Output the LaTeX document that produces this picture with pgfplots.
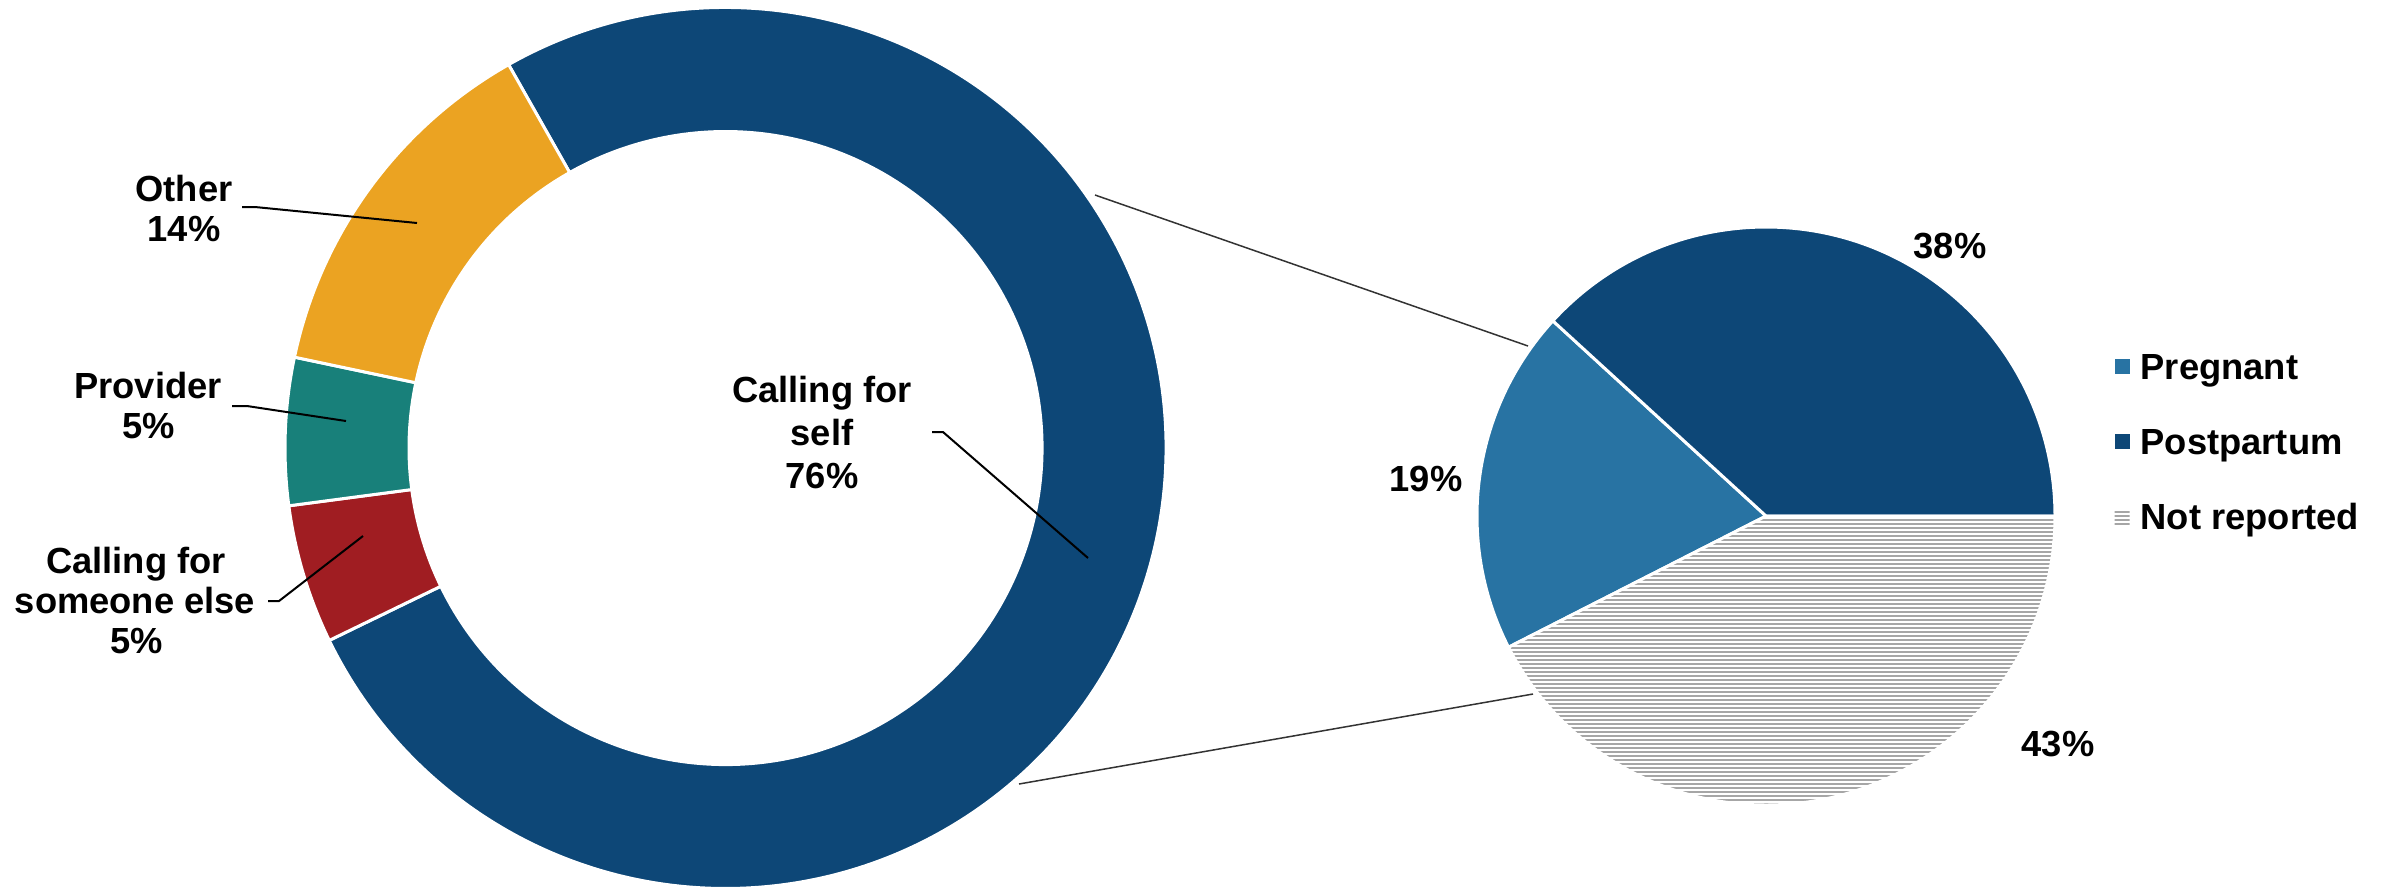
\documentclass[border=0pt]{standalone}
\usepackage{pgfplots}
\pgfplotsset{compat=1.18}
\usepackage{pgfplotstable}
\usepackage{fontspec}
\setmainfont{Liberation Sans}
\usetikzlibrary{patterns}

\definecolor{cself}{HTML}{0D4777}
\definecolor{cother}{HTML}{EBA322}
\definecolor{cprov}{HTML}{18807A}
\definecolor{csome}{HTML}{A01D22}
\definecolor{cpreg}{HTML}{2873A3}
\definecolor{cpost}{HTML}{0D4777}
\definecolor{cnr}{HTML}{A6A6A6}

\pgfdeclarepatternformonly{finehlines}{\pgfqpoint{-0.1pt}{-0.1pt}}{\pgfqpoint{1.3pt}{1.3pt}}{\pgfqpoint{1.2pt}{1.2pt}}{%
  \pgfpathrectangle{\pgfqpoint{-0.1pt}{0pt}}{\pgfqpoint{1.4pt}{0.6pt}}\pgfusepath{fill}}

% Donut: who is calling (percent)
\pgfplotstableread{
category value
Self 76.0
Someone 5.1
Provider 5.4
Other 13.5
}\donutdata
% Pie: status of those calling for self (percent)
\pgfplotstableread{
category value
Pregnant 19.3
Postpartum 38.2
NotReported 42.5
}\piedata

\newcommand\getval[3]{\pgfplotstablegetelem{#2}{value}\of#1\global\let#3\pgfplotsretval}
\getval{\donutdata}{0}{\vSelf}
\getval{\donutdata}{1}{\vSome}
\getval{\donutdata}{2}{\vProv}
\getval{\donutdata}{3}{\vOther}
\getval{\piedata}{0}{\vPreg}
\getval{\piedata}{1}{\vPost}
\getval{\piedata}{2}{\vNR}
\pgfmathsetmacro\dA{119.5}
\pgfmathsetmacro\dB{\dA-3.6*\vSelf}
\pgfmathsetmacro\dC{\dB-3.6*\vSome}
\pgfmathsetmacro\dD{\dC-3.6*\vProv}
\pgfmathsetmacro\dE{\dD-3.6*\vOther}
\pgfmathsetmacro\pA{207}
\pgfmathsetmacro\pB{\pA-3.6*\vPreg}
\pgfmathsetmacro\pC{\pB-3.6*\vPost}
\pgfmathsetmacro\pD{\pC-3.6*\vNR}

\newcommand\lab{\fontsize{10.9}{12.9}\selectfont\bfseries}

\newcommand\donutslice[3]{\fill[#3, draw=white, line width=0.9pt, shift={(axis cs:725.5,441)}] (#1:132.15pt) arc[start angle=#1, end angle=#2, radius=132.15pt] -- (#2:94.95pt) arc[start angle=#2, end angle=#1, radius=94.95pt] -- cycle;}
\newcommand\pieslice[3]{\fill[#3, draw=white, line width=0.9pt, shift={(axis cs:1766,373)}] (0,0) -- (#1:86.7pt) arc[start angle=#1, end angle=#2, radius=86.7pt] -- cycle;}

\begin{document}%
\begin{tikzpicture}
\begin{axis}[
  width=717.3pt, height=266.7pt, scale only axis,
  xmin=0, xmax=2391, ymin=0, ymax=889,
  hide axis, clip=false,
  legend image code/.code={\fill[#1] (0pt,-1.15pt) rectangle (4.5pt,3.35pt);},
  legend style={draw=none, fill=none, inner sep=0pt, at={(axis cs:2114,444)}, anchor=west,
    font=\lab, row sep=12.4pt, column sep=3.3pt,
    nodes={inner sep=0pt, text height=7.9pt, text depth=2.3pt}},
  legend cell align=left,
]
\coordinate (BL) at (axis cs:0,0);
\coordinate (TR) at (axis cs:2391,889);
% donut
\donutslice{\dA}{\dB}{cself}
\donutslice{\dB}{\dC}{csome}
\donutslice{\dC}{\dD}{cprov}
\donutslice{\dD}{\dE}{cother}
% pie
\pieslice{\pA}{\pB}{cpreg}
\pieslice{\pB}{\pC}{cpost}
\pieslice{\pC}{\pD}{pattern=finehlines, pattern color=cnr}
% legend entries
\addplot[fill=cpreg, draw=none] coordinates {(1766,373)};
\addlegendentry{Pregnant}
\addplot[fill=cpost, draw=none] coordinates {(1766,373)};
\addlegendentry{Postpartum}
\addplot[pattern=finehlines, pattern color=cnr, draw=none] coordinates {(1766,373)};
\addlegendentry{Not reported}
% connector lines
\draw[line width=0.45pt, black!80] (axis cs:1095,694) -- (axis cs:1528,543);
\draw[line width=0.45pt, black!80] (axis cs:1019,105) -- (axis cs:1533,195);
% leader lines
\draw[line width=0.6pt] (axis cs:932,457) -- (axis cs:943,457) -- (axis cs:1088,331);
\draw[line width=0.6pt] (axis cs:242,682) -- (axis cs:255,682) -- (axis cs:417,666);
\draw[line width=0.6pt] (axis cs:232,483) -- (axis cs:247,483) -- (axis cs:346,468);
\draw[line width=0.6pt] (axis cs:268,288) -- (axis cs:279,288) -- (axis cs:363,353);
% labels
\begin{scope}[every node/.style={anchor=base, inner sep=0pt, font=\lab}]
\node at (axis cs:822,487) {Calling for};
\node at (axis cs:822,444) {self};
\node at (axis cs:822,401) {76\%};
\node at (axis cs:184,688) {Other};
\node at (axis cs:184,648) {14\%};
\node at (axis cs:148,491) {Provider};
\node at (axis cs:149,451) {5\%};
\node at (axis cs:136,316) {Calling for};
\node at (axis cs:135,276) {someone else};
\node at (axis cs:136.5,236) {5\%};
\node at (axis cs:1950,631) {38\%};
\node at (axis cs:1426,398) {19\%};
\node at (axis cs:2058,133) {43\%};
\end{scope}
\end{axis}
\pgfresetboundingbox
\path (BL) rectangle (TR);
\end{tikzpicture}%
\end{document}
